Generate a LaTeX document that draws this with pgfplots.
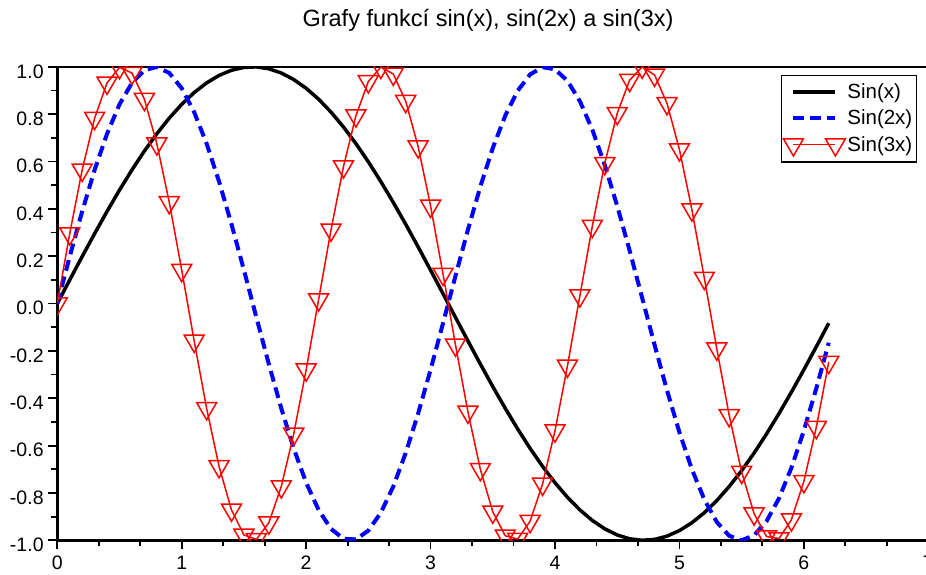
\documentclass[border=0pt]{standalone}
\usepackage{pgfplots}
\usepackage{pgfplotstable}
\pgfplotsset{compat=1.18}
\usepackage{fontspec}
\setmainfont{Liberation Sans}

% x = 0:0.1:6.2 with sin(x), sin(2x), sin(3x)
\pgfplotstableread{
x    s1      s2      s3
0.0  0.0000  0.0000  0.0000
0.1  0.0998  0.1987  0.2955
0.2  0.1987  0.3894  0.5646
0.3  0.2955  0.5646  0.7833
0.4  0.3894  0.7174  0.9320
0.5  0.4794  0.8415  0.9975
0.6  0.5646  0.9320  0.9738
0.7  0.6442  0.9854  0.8632
0.8  0.7174  0.9996  0.6755
0.9  0.7833  0.9738  0.4274
1.0  0.8415  0.9093  0.1411
1.1  0.8912  0.8085 -0.1577
1.2  0.9320  0.6755 -0.4425
1.3  0.9636  0.5155 -0.6878
1.4  0.9854  0.3350 -0.8716
1.5  0.9975  0.1411 -0.9775
1.6  0.9996 -0.0584 -0.9962
1.7  0.9917 -0.2555 -0.9258
1.8  0.9738 -0.4425 -0.7728
1.9  0.9463 -0.6119 -0.5507
2.0  0.9093 -0.7568 -0.2794
2.1  0.8632 -0.8716  0.0168
2.2  0.8085 -0.9516  0.3115
2.3  0.7457 -0.9937  0.5784
2.4  0.6755 -0.9962  0.7937
2.5  0.5985 -0.9589  0.9380
2.6  0.5155 -0.8835  0.9985
2.7  0.4274 -0.7728  0.9699
2.8  0.3350 -0.6313  0.8546
2.9  0.2392 -0.4646  0.6630
3.0  0.1411 -0.2794  0.4121
3.1  0.0416 -0.0831  0.1245
3.2 -0.0584  0.1165 -0.1743
3.3 -0.1577  0.3115 -0.4575
3.4 -0.2555  0.4941 -0.6999
3.5 -0.3508  0.6570 -0.8797
3.6 -0.4425  0.7937 -0.9809
3.7 -0.5298  0.8987 -0.9946
3.8 -0.6119  0.9679 -0.9193
3.9 -0.6878  0.9985 -0.7620
4.0 -0.7568  0.9894 -0.5366
4.1 -0.8183  0.9407 -0.2633
4.2 -0.8716  0.8546  0.0336
4.3 -0.9162  0.7344  0.3274
4.4 -0.9516  0.5849  0.5921
4.5 -0.9775  0.4121  0.8038
4.6 -0.9937  0.2229  0.9437
4.7 -0.9999  0.0248  0.9993
4.8 -0.9962 -0.1743  0.9657
4.9 -0.9825 -0.3665  0.8458
5.0 -0.9589 -0.5440  0.6503
5.1 -0.9258 -0.6999  0.3968
5.2 -0.8835 -0.8278  0.1078
5.3 -0.8323 -0.9228 -0.1908
5.4 -0.7728 -0.9809 -0.4724
5.5 -0.7055 -1.0000 -0.7118
5.6 -0.6313 -0.9792 -0.8876
5.7 -0.5507 -0.9193 -0.9841
5.8 -0.4646 -0.8228 -0.9927
5.9 -0.3739 -0.6935 -0.9126
6.0 -0.2794 -0.5366 -0.7510
6.1 -0.1822 -0.3583 -0.5224
6.2 -0.0831 -0.1656 -0.2470
}\sindata

\begin{document}
\begin{tikzpicture}
\begin{axis}[
  at={(0pt,0pt)}, anchor=south west,
  scale only axis,
  width=871pt, height=473.5pt,
  xmin=0, xmax=7, ymin=-1, ymax=1,
  axis line style={line width=2.5pt},
  tick pos=left, tick align=outside,
  xtick={0,1,2,3,4,5,6,7},
  ytick={-1,-0.8,-0.6,-0.4,-0.2,0,0.2,0.4,0.6,0.8,1},
  minor x tick num=2, minor y tick num=1,
  major tick length=9pt, minor tick length=6pt,
  every tick/.style={line width=1.8pt, black},
  /pgf/number format/assume math mode=true,
  tick label style={font=\fontsize{19.5}{22}\selectfont},
  xticklabel style={anchor=base, yshift=-20.5pt, inner ysep=0pt, text depth=0pt},
  yticklabel style={/pgf/number format/fixed, /pgf/number format/fixed zerofill,
                    /pgf/number format/precision=1, inner xsep=4.5pt, yshift=-4.5pt},
  title={Grafy funkcí sin(x), sin(2x) a sin(3x)},
  title style={font=\fontsize{23.5}{27}\selectfont, anchor=base, at={(0.5,1)},
               yshift=34.5pt, xshift=-4.8pt},
  clip marker paths=true,
  legend image code/.code={\draw[#1] plot coordinates {(0pt,0pt) (42pt,0pt)};},
  legend cell align=left,
  legend style={at={(0.987,0.9827)}, anchor=north east, draw=black, line width=1.3pt,
                fill=white, font=\fontsize{20.5}{24}\selectfont, inner xsep=2pt, inner ysep=6pt,
                row sep=6pt},
]
\addplot[black, line width=3.5pt, mark=none] table[x=x, y=s1] {\sindata};
\addlegendentry{Sin(x)}
\addplot[blue, line width=4pt, dash pattern=on 11pt off 6pt, mark=none] table[x=x, y=s2] {\sindata};
\addlegendentry{Sin(2x)}
\addplot[red, line width=1.5pt, mark=triangle, mark size=11.5pt,
         mark options={solid, rotate=180, line width=1.5pt, fill=none}] table[x=x, y=s3] {\sindata};
\addlegendentry{Sin(3x)}
\end{axis}
\pgfresetboundingbox
\path[use as bounding box] (-57.3pt,-33.7pt) rectangle (868.7pt,540.3pt);
\end{tikzpicture}
\end{document}
